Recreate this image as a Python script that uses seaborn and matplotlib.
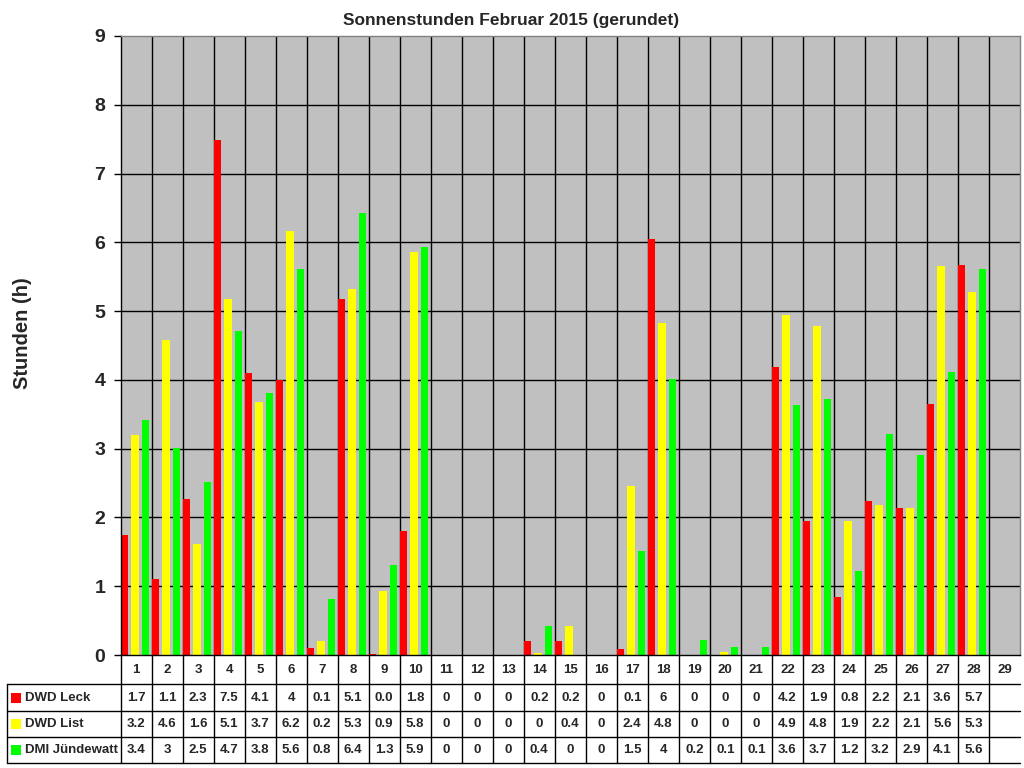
import numpy as np
import pandas as pd
import matplotlib
matplotlib.use("Agg")
import matplotlib.pyplot as plt
from matplotlib.patches import Rectangle
import seaborn as sns

sns.set_theme(style="white")
plt.rcParams['font.family'] = ['Liberation Sans', 'DejaVu Sans']
plt.rcParams['font.weight'] = 'bold'

# Daten (Sonnenstunden pro Tag, Februar 2015)
tage = [str(d) for d in range(1, 30)]
stationen = ["DWD Leck", "DWD List", "DMI Jündewatt"]
farben = ["#FF0000", "#FFFF00", "#00FF00"]

leck = [1.74, 1.10, 2.27, 7.49, 4.10, 4.00, 0.10, 5.17, 0.02, 1.80,
        0, 0, 0, 0.20, 0.20, 0, 0.09, 6.05, 0, 0,
        0, 4.19, 1.95, 0.84, 2.24, 2.14, 3.65, 5.67]
list_ = [3.20, 4.58, 1.61, 5.17, 3.68, 6.16, 0.20, 5.32, 0.93, 5.86,
         0, 0, 0, 0.03, 0.42, 0, 2.46, 4.83, 0, 0.04,
         0, 4.94, 4.78, 1.95, 2.18, 2.14, 5.65, 5.28]
juende = [3.42, 3.01, 2.51, 4.71, 3.81, 5.61, 0.81, 6.42, 1.31, 5.93,
          0, 0, 0, 0.42, 0, 0, 1.51, 4.01, 0.22, 0.12,
          0.12, 3.63, 3.72, 1.22, 3.21, 2.91, 4.11, 5.61]

leck_txt = ["1.7", "1.1", "2.3", "7.5", "4.1", "4", "0.1", "5.1", "0.0", "1.8",
            "0", "0", "0", "0.2", "0.2", "0", "0.1", "6", "0", "0",
            "0", "4.2", "1.9", "0.8", "2.2", "2.1", "3.6", "5.7", ""]
list_txt = ["3.2", "4.6", "1.6", "5.1", "3.7", "6.2", "0.2", "5.3", "0.9", "5.8",
            "0", "0", "0", "0", "0.4", "0", "2.4", "4.8", "0", "0",
            "0", "4.9", "4.8", "1.9", "2.2", "2.1", "5.6", "5.3", ""]
juende_txt = ["3.4", "3", "2.5", "4.7", "3.8", "5.6", "0.8", "6.4", "1.3", "5.9",
              "0", "0", "0", "0.4", "0", "0", "1.5", "4", "0.2", "0.1",
              "0.1", "3.6", "3.7", "1.2", "3.2", "2.9", "4.1", "5.6", ""]

df = pd.DataFrame({
    "Tag": tage[:28] * 3,
    "Stunden": leck + list_ + juende,
    "Station": [s for s in stationen for _ in range(28)],
})

fig = plt.figure(figsize=(10.24, 7.68), dpi=100)
ax = fig.add_axes([120.5 / 1024, 113 / 768, 899 / 1024, 619 / 768])
ax.set_facecolor("#C0C0C0")

sns.barplot(data=df, x="Tag", y="Stunden", hue="Station", order=tage,
            hue_order=stationen, palette=farben, saturation=1,
            width=1.02, gap=0.28, linewidth=0, legend=False, ax=ax)

x0, x1 = -0.47, 28.53
ax.set_xlim(x0, x1)
ax.set_ylim(0, 9)
ax.set_yticks(range(10))
ax.set_yticklabels([str(i) for i in range(10)], fontsize=14, fontweight='bold')
ax.set_xticks([])
ax.set_xlabel("")
ax.set_ylabel("")
ax.tick_params(axis='y', direction='out', length=5, width=1, color='black', pad=6, left=True)

for y in range(1, 9):
    ax.axhline(y, color='black', lw=1, zorder=0.5)
for k in range(28):
    ax.axvline(k + 0.53, color='black', lw=1, zorder=0.5)

for s in ['left', 'bottom']:
    ax.spines[s].set_color('black')
    ax.spines[s].set_linewidth(1)
for s in ['top', 'right']:
    ax.spines[s].set_color('#808080')
    ax.spines[s].set_linewidth(1)

fig.text(511 / 1024, 1 - 20 / 768, "Sonnenstunden Februar 2015 (gerundet)",
         ha='center', va='center', fontsize=12.5, fontweight='bold')
fig.text(23 / 1024, 1 - 333 / 768, "Stunden (h)", rotation=90,
         ha='center', va='center', fontsize=14.5, fontweight='bold')

# Datentabelle unter dem Diagramm
tab = fig.add_axes([7 / 1024, 5 / 768, 1013 / 1024, 108 / 768])
tx0 = x0 - 113.5 / 31
tab.set_xlim(tx0, x1)
tab.set_ylim(763, 655)
tab.axis('off')

for y in [684, 711, 737, 763]:
    tab.plot([tx0, x1], [y, y], color='black', lw=1, clip_on=False)
tab.plot([tx0, tx0], [684, 763], color='black', lw=1, clip_on=False)
tab.plot([x0, x0], [655, 763], color='black', lw=1, clip_on=False)
for k in range(28):
    tab.plot([k + 0.53, k + 0.53], [655, 763], color='black', lw=1, clip_on=False)

for i, t in enumerate(tage):
    tab.text(i + 0.03, 670, t, ha='center', va='center', fontsize=9.5, fontweight='bold')

zeilen_y = [697.5, 724, 750]
for yy, name, farbe, werte in zip(zeilen_y, stationen, farben, [leck_txt, list_txt, juende_txt]):
    tab.add_patch(Rectangle((tx0 + 3.5 / 31, yy - 5), 10.5 / 31, 10, color=farbe, lw=0))
    tab.text(tx0 + 18 / 31, yy, name, ha='left', va='center', fontsize=9.5, fontweight='bold')
    for i, w in enumerate(werte):
        tab.text(i + 0.03, yy, w, ha='center', va='center', fontsize=9.5, fontweight='bold')

fig.savefig("out.png", dpi=100, facecolor='white')
